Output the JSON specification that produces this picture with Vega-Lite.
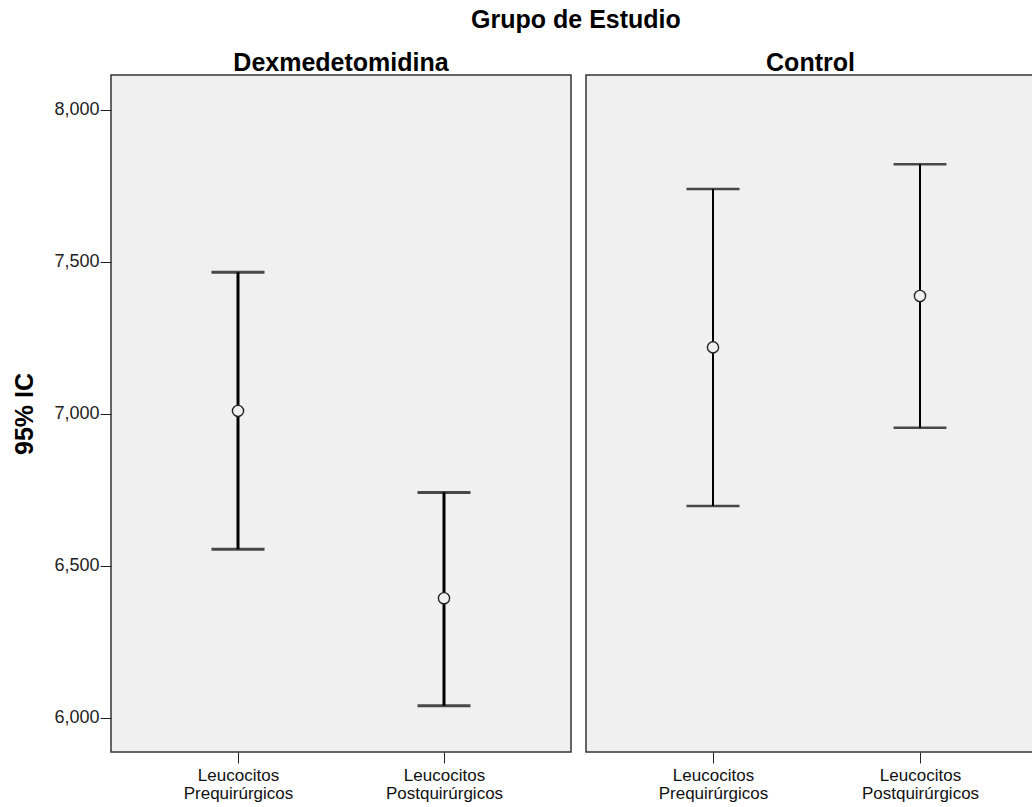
{
  "$schema": "https://vega.github.io/schema/vega-lite/v6.json",
  "background": "white",
  "padding": {"left": 12, "top": 8, "right": 0, "bottom": 0},
  "title": {"text": "Grupo de Estudio", "anchor": "middle", "fontSize": 25, "font": "Liberation Sans", "fontWeight": "bold", "color": "#000", "offset": 17, "dx": 52},
  "datasets": {
    "ic": [
      {"grupo": "Dexmedetomidina", "variable": "Leucocitos Prequirúrgicos", "media": 7010, "li": 6555, "ls": 7466},
      {"grupo": "Dexmedetomidina", "variable": "Leucocitos Postquirúrgicos", "media": 6394, "li": 6040, "ls": 6742},
      {"grupo": "Control", "variable": "Leucocitos Prequirúrgicos", "media": 7219, "li": 6697, "ls": 7740},
      {"grupo": "Control", "variable": "Leucocitos Postquirúrgicos", "media": 7388, "li": 6955, "ls": 7821}
    ]
  },
  "spacing": 13,
  "config": {
    "view": {"fill": "#f0f0f0", "stroke": "#333", "strokeWidth": 1.5},
    "font": "Liberation Sans",
    "title": {"fontSize": 25, "font": "Liberation Sans", "fontWeight": "bold", "color": "#000", "baseline": "alphabetic", "offset": -1},
    "axis": {"grid": false, "domain": false, "tickColor": "#222", "labelColor": "#222", "labelFont": "Liberation Sans", "labelFontSize": 18, "titleFont": "Liberation Sans", "titleFontSize": 25, "titleFontWeight": "bold", "titleColor": "#000"}
  },
  "hconcat": [
    {
      "title": "Dexmedetomidina",
      "width": 460,
      "height": 677,
      "data": {"name": "ic"},
      "transform": [{"filter": "datum.grupo === 'Dexmedetomidina'"}],
      "encoding": {
        "x": {"field": "variable", "type": "nominal", "sort": ["Leucocitos Prequirúrgicos", "Leucocitos Postquirúrgicos"],
              "scale": {"type": "point", "domain": ["Leucocitos Prequirúrgicos", "Leucocitos Postquirúrgicos"], "range": [127, 333], "padding": 0},
              "axis": {"title": null, "labelAngle": 0, "tickSize": 11, "labelPadding": 4, "labelBaseline": "top", "labelFontSize": 17, "labelLineHeight": 18, "labelExpr": "split(datum.label, ' ')", "labelColor": "#111"}}
      },
      "layer": [
        {"mark": {"type": "rule", "color": "#000", "strokeWidth": 3},
         "encoding": {"y": {"field": "li", "type": "quantitative", "scale": {"domain": [5888, 8115], "nice": false, "zero": false},
                            "axis": {"title": "95% IC", "values": [6000, 6500, 7000, 7500, 8000], "format": ",d", "tickSize": 11, "labelPadding": 1, "titlePadding": 16}},
                      "y2": {"field": "ls"}}},
        {"mark": {"type": "tick", "color": "#000", "size": 53, "thickness": 3}, "encoding": {"y": {"field": "ls", "type": "quantitative"}}},
        {"mark": {"type": "tick", "color": "#000", "size": 53, "thickness": 3}, "encoding": {"y": {"field": "li", "type": "quantitative"}}},
        {"mark": {"type": "point", "shape": "circle", "filled": false, "fill": "#f0f0f0", "fillOpacity": 1, "stroke": "#222", "strokeWidth": 1.4, "size": 125, "opacity": 1},
         "encoding": {"y": {"field": "media", "type": "quantitative"}}}
      ]
    },
    {
      "title": "Control",
      "width": 449,
      "height": 677,
      "data": {"name": "ic"},
      "transform": [{"filter": "datum.grupo === 'Control'"}],
      "encoding": {
        "x": {"field": "variable", "type": "nominal", "sort": ["Leucocitos Prequirúrgicos", "Leucocitos Postquirúrgicos"],
              "scale": {"type": "point", "domain": ["Leucocitos Prequirúrgicos", "Leucocitos Postquirúrgicos"], "range": [127, 334], "padding": 0},
              "axis": {"title": null, "labelAngle": 0, "tickSize": 11, "labelPadding": 4, "labelBaseline": "top", "labelFontSize": 17, "labelLineHeight": 18, "labelExpr": "split(datum.label, ' ')", "labelColor": "#111"}}
      },
      "layer": [
        {"mark": {"type": "rule", "color": "#000", "strokeWidth": 2},
         "encoding": {"y": {"field": "li", "type": "quantitative", "scale": {"domain": [5888, 8115], "nice": false, "zero": false}, "axis": null},
                      "y2": {"field": "ls"}}},
        {"mark": {"type": "tick", "color": "#000", "size": 53, "thickness": 2.5}, "encoding": {"y": {"field": "ls", "type": "quantitative"}}},
        {"mark": {"type": "tick", "color": "#000", "size": 53, "thickness": 2.5}, "encoding": {"y": {"field": "li", "type": "quantitative"}}},
        {"mark": {"type": "point", "shape": "circle", "filled": false, "fill": "#f0f0f0", "fillOpacity": 1, "stroke": "#222", "strokeWidth": 1.4, "size": 125, "opacity": 1},
         "encoding": {"y": {"field": "media", "type": "quantitative"}}}
      ]
    }
  ]
}
